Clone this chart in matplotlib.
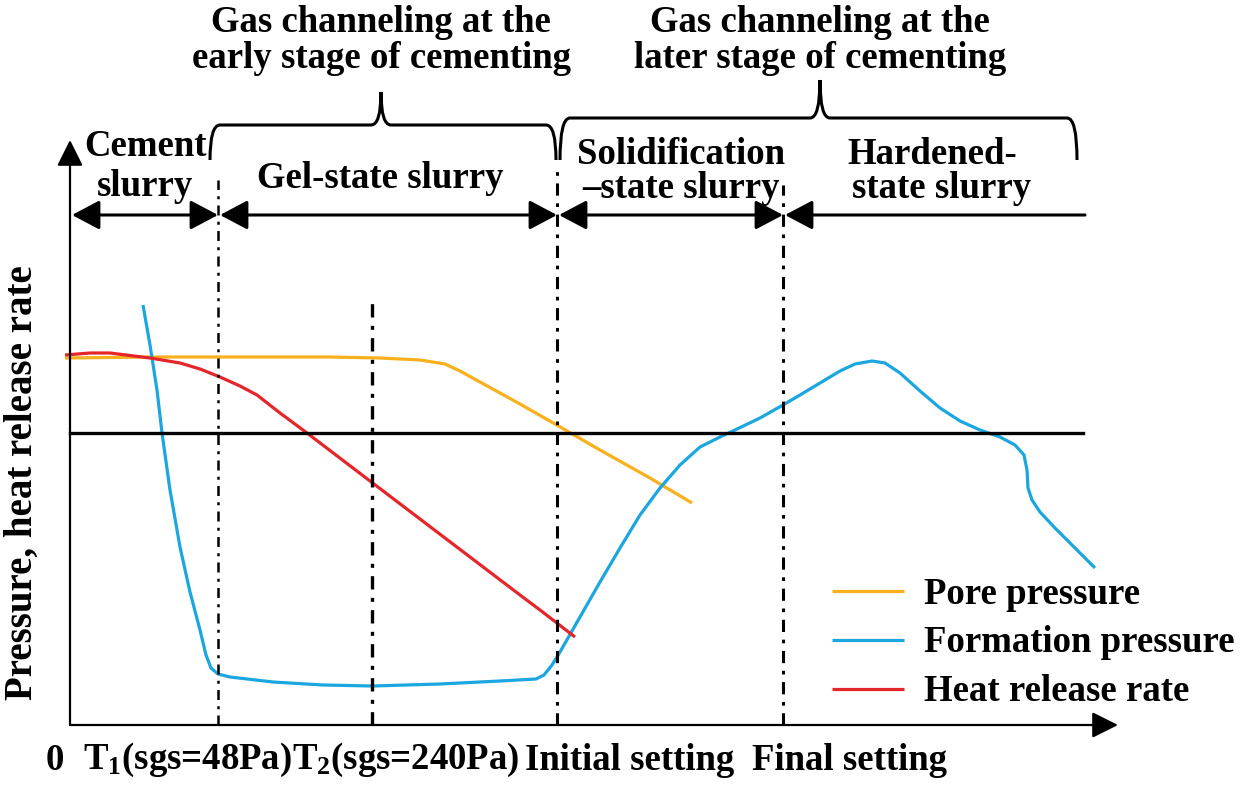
import numpy as np
import matplotlib
matplotlib.use('Agg')
import matplotlib.pyplot as plt
from matplotlib.path import Path
from matplotlib.patches import PathPatch

plt.rcParams['font.family'] = ['Liberation Serif', 'DejaVu Serif']
plt.rcParams['font.weight'] = 'bold'
plt.rcParams['mathtext.fontset'] = 'custom'
plt.rcParams['mathtext.rm'] = 'Liberation Serif:bold'
plt.rcParams['mathtext.bf'] = 'Liberation Serif:bold'
plt.rcParams['mathtext.default'] = 'bf'

# schematic curves (x: time, y: pressure / heat release rate, arbitrary units)
pore_x = [-5, 80, 180, 260, 310, 350, 375, 390, 410, 450, 485, 530, 580, 622]
pore_y = [367, 368, 368, 368, 367, 365, 361, 354, 343, 321, 301, 275, 247, 222]

heat_x = [-5, 20, 40, 80, 110, 130, 150, 170, 187, 210, 237, 300, 350, 400, 450, 470, 505]
heat_y = [370, 372, 372, 367, 362, 356, 348, 339, 330, 312, 292, 244, 206, 168, 130, 115, 88]

form_x = [73, 80, 87, 92, 100, 110, 120, 130, 136, 141, 148, 160, 203, 253, 303, 370, 430, 466,
          474, 482, 490, 510, 530, 550, 570, 590, 610, 630, 650, 665, 690, 713, 730, 750, 770,
          785, 802, 815, 830, 850, 870, 890, 910, 930, 945, 954, 957, 958, 962, 970, 985,
          1005, 1025]
form_y = [420, 380, 335, 292, 235, 178, 133, 95, 70, 57, 51, 48, 43, 40, 39, 41, 44, 46,
          50, 60, 73, 108, 143, 177, 210, 237, 260, 278, 288, 295, 307, 320, 330, 342, 354,
          361, 364, 362, 352, 334, 317, 304, 295, 288, 280, 270, 255, 237, 225, 213, 197,
          177, 157]

baseline_y = 292
baseline_end = 1013

# time markers (dash-dot verticals) and their top ends
mark_x = [148, 302, 487, 713]
mark_top = [545, 422, 555, 540]
mark_lw = [1.8, 2.4, 2.2, 2.2]

# stage arrows
arrow_y = 510
stage_bounds = [0, 148, 487, 713]
stage_end = 1015

fig = plt.figure(figsize=(12.5, 7.93), dpi=100)
ax = fig.add_axes([0, 0, 1, 1])
ax.set_xlim(-70, 1180)
ax.set_ylim(-68, 725)
ax.axis('off')

ax.plot(pore_x, pore_y, color='#F8B01C', lw=2.3, label='Pore pressure', solid_capstyle='butt')
ax.plot(form_x, form_y, color='#1CA6DF', lw=2.3, label='Formation pressure', solid_capstyle='butt')
ax.plot(heat_x, heat_y, color='#E4262B', lw=2.3, label='Heat release rate', solid_capstyle='butt')

ax.plot([0, baseline_end], [baseline_y, baseline_y], color='black', lw=2.4)

# axes with arrow heads
ax.annotate('', xy=(0, 585), xytext=(0, 0),
            arrowprops=dict(arrowstyle='-|>,head_length=0.8,head_width=0.4', mutation_scale=20,
                            lw=1.6, color='black', shrinkA=0, shrinkB=0))
ax.annotate('', xy=(1048, 0), xytext=(0, 0),
            arrowprops=dict(arrowstyle='-|>,head_length=0.8,head_width=0.4', mutation_scale=20,
                            lw=1.6, color='black', shrinkA=0, shrinkB=0))

for x, top, w in zip(mark_x, mark_top, mark_lw):
    ax.plot([x, x], [0, top], color='black', lw=w, linestyle=(0, (4, 2.5, 1.2, 2.5)))

for a, b in zip(stage_bounds[:-1], stage_bounds[1:]):
    ax.annotate('', xy=(b, arrow_y), xytext=(a + 2, arrow_y),
                arrowprops=dict(arrowstyle='<|-|>,head_length=0.85,head_width=0.45', mutation_scale=20,
                                lw=2.2, color='black', shrinkA=0, shrinkB=0))
ax.annotate('', xy=(stage_bounds[-1] + 2, arrow_y), xytext=(stage_end, arrow_y),
            arrowprops=dict(arrowstyle='-|>,head_length=0.85,head_width=0.45', mutation_scale=20,
                            lw=2.2, color='black', shrinkA=0, shrinkB=0))


def brace(x0, x1, xm, ytop, ybot, ypeak, r=10):
    verts = [(x0, ybot), (x0, ytop), (x0 + r, ytop),
             (xm - r, ytop), (xm, ytop), (xm, ypeak),
             (xm, ytop), (xm + r, ytop),
             (x1 - r, ytop), (x1, ytop), (x1, ybot)]
    codes = [Path.MOVETO, Path.CURVE3, Path.CURVE3,
             Path.LINETO, Path.CURVE3, Path.CURVE3,
             Path.CURVE3, Path.CURVE3,
             Path.LINETO, Path.CURVE3, Path.CURVE3]
    ax.add_patch(PathPatch(Path(verts, codes), fill=False, lw=2.2, color='black'))


brace(140, 486, 311, 600, 565, 633)
brace(490, 1007, 750, 607, 565, 645)

fs = 26.5


def label(x, y, s, size=fs, **kw):
    ax.text(x, y, s, ha='center', va='center', fontsize=size, **kw)


label(311, 703, 'Gas channeling at the')
label(311, 667, 'early stage of cementing')
label(750, 703, 'Gas channeling at the')
label(750, 667, 'later stage of cementing')
label(75, 579, 'Cement')
label(75, 539, 'slurry')
label(310, 547, 'Gel-state slurry')
label(611, 570, 'Solidification')
label(611, 537, '\u2013state slurry')
label(862, 570, 'Hardened-')
label(872, 537, 'state slurry')

label(-48, 242, 'Pressure, heat release rate', size=28, rotation=90)

tick_pos = [-15, 117, 336, 560, 780]
tick_lab = ['0', 'T$_1$(sgs=48Pa)', 'T$_2$(sgs=240Pa)', 'Initial setting', 'Final setting']
for x, s in zip(tick_pos, tick_lab):
    label(x, -35, s)

ax.legend(loc='center left', bbox_to_anchor=(736, 82), bbox_transform=ax.transData,
          frameon=False, fontsize=fs, handlelength=1.96, handletextpad=0.55, labelspacing=0.38,
          borderpad=0.2)

fig.savefig('out.png', dpi=100)
